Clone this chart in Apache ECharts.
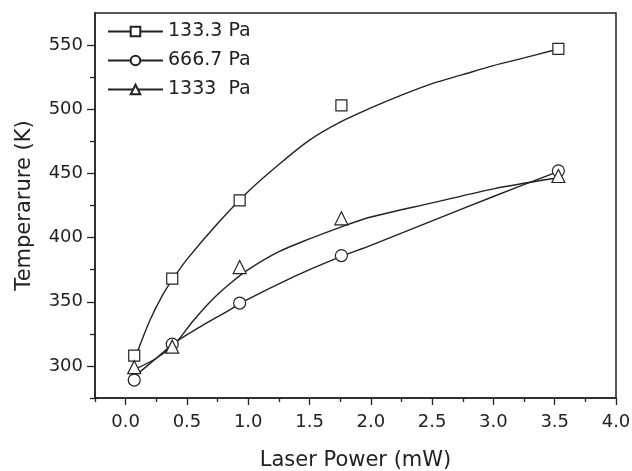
<!DOCTYPE html>
<html>
<head>
<meta charset="utf-8">
<script src="https://cdn.jsdelivr.net/npm/echarts@6/dist/echarts.min.js"></script>
<style>
  html, body { margin: 0; padding: 0; background: #fff; }
  #chart { width: 632px; height: 471px; }
</style>
</head>
<body>
<div id="chart"></div>
<script>
// measured points
var power = [0.07, 0.38, 0.93, 1.76, 3.53];
var temp133 = [308, 368, 429, 503, 547];
var temp667 = [289, 317, 349, 386, 452];
var temp1333 = [299, 315, 377, 415, 448];

// fitted curves at regular steps
var fit133x = [0.1, 0.2, 0.3, 0.38, 0.5, 0.75, 1.0, 1.25, 1.5, 1.75, 2.0, 2.25, 2.5, 2.75, 3.0, 3.25, 3.49];
var fit133y = [312, 336, 355, 367, 383, 411, 436, 457, 476, 490, 501, 511, 520, 527, 534, 540, 546];
var fit667x = [0.1, 0.25, 0.4, 0.6, 0.8, 1.0, 1.25, 1.5, 1.75, 2.0, 2.5, 3.0, 3.49];
var fit667y = [294, 306, 318, 330, 341, 352, 364, 375, 385, 394, 413, 432, 450];
var fit1333x = [0.09, 0.25, 0.4, 0.55, 0.7, 0.85, 1.0, 1.25, 1.5, 1.75, 2.0, 2.5, 3.0, 3.49];
var fit1333y = [298, 306, 317, 335, 351, 364, 375, 389, 399, 408, 416, 427, 438, 446];

var xMajor = [0, 0.5, 1, 1.5, 2, 2.5, 3, 3.5, 4];
var xMinor = [-0.25, 0.25, 0.75, 1.25, 1.75, 2.25, 2.75, 3.25, 3.75];
var yMajor = [300, 350, 400, 450, 500, 550];
var yMinor = [275, 325, 375, 425, 475, 525];

var ink = '#222';
var font = 'DejaVu Sans';

function pairs(xs, ys) {
  return xs.map(function (x, i) { return [x, ys[i]]; });
}

var chart = echarts.init(document.getElementById('chart'));

function fitSeries(name, data, sym) {
  return {
    name: name, type: 'line', data: data, smooth: 0.3,
    symbol: sym, symbolSize: 10, showSymbol: false,
    xAxisIndex: 0, yAxisIndex: 0,
    lineStyle: { color: ink, width: 1.4 },
    itemStyle: { color: ink, borderColor: ink, borderWidth: 1 },
    z: 2, silent: true
  };
}
function pointSeries(name, data, sym, size) {
  return {
    name: name, type: 'scatter', data: data, symbol: sym, symbolSize: size,
    xAxisIndex: 0, yAxisIndex: 0,
    itemStyle: { color: '#fff', borderColor: ink, borderWidth: 1.2, opacity: 1 },
    z: 3, silent: true
  };
}

var option = {
  animation: false,
  backgroundColor: '#fff',
  grid: {
    left: 95, right: 16, top: 13, bottom: 73, containLabel: false, outerBoundsMode: 'none',
    show: true, borderColor: ink, borderWidth: 1.5, backgroundColor: 'transparent'
  },
  legend: {
    data: ['133.3 Pa', '666.7 Pa', '1333  Pa'],
    orient: 'vertical', left: 107, top: 22, padding: 0,
    itemWidth: 55, itemHeight: 12, itemGap: 10,
    textStyle: { fontFamily: font, fontSize: 19, color: ink, lineHeight: 19 },
    selectedMode: false
  },
  xAxis: [{
    type: 'value', min: -0.25, max: 4, position: 'bottom',
    name: 'Laser Power (mW)', nameLocation: 'middle', nameGap: 52,
    nameTextStyle: { fontFamily: font, fontSize: 21, color: ink, lineHeight: 21 },
    axisLine: { onZero: false, lineStyle: { color: ink, width: 1.5 } },
    axisTick: { customValues: xMajor, length: 7, lineStyle: { color: ink, width: 1.3 } },
    axisLabel: { customValues: xMajor, fontFamily: font, fontSize: 18, color: ink, margin: 15,
      formatter: function (v) { return v.toFixed(1); } },
    splitLine: { show: false }
  }, {
    type: 'value', min: -0.25, max: 4, position: 'bottom',
    axisLine: { show: false, onZero: false },
    axisTick: { customValues: xMinor, length: 4, lineStyle: { color: ink, width: 1.3 } },
    axisLabel: { show: false },
    splitLine: { show: false }
  }],
  yAxis: [{
    type: 'value', min: 275, max: 575, position: 'left',
    name: 'Temperarure (K)', nameLocation: 'middle', nameGap: 60,
    nameTextStyle: { fontFamily: font, fontSize: 21, color: ink },
    axisLine: { show: true, onZero: false, lineStyle: { color: ink, width: 1.5 } },
    axisTick: { show: true, customValues: yMajor, length: 8, lineStyle: { color: ink, width: 1.3 } },
    axisLabel: { customValues: yMajor, fontFamily: font, fontSize: 18, color: ink, margin: 12 },
    splitLine: { show: false }
  }, {
    type: 'value', min: 275, max: 575, position: 'left',
    axisLine: { show: false, onZero: false },
    axisTick: { show: true, customValues: yMinor, length: 5, lineStyle: { color: ink, width: 1.3 } },
    axisLabel: { show: false },
    splitLine: { show: false }
  }],
  series: [
    fitSeries('133.3 Pa', pairs(fit133x, fit133y), 'emptyRect'),
    fitSeries('666.7 Pa', pairs(fit667x, fit667y), 'emptyCircle'),
    fitSeries('1333  Pa', pairs(fit1333x, fit1333y), 'emptyTriangle'),
    pointSeries('pts 133.3', pairs(power, temp133), 'rect', 11),
    pointSeries('pts 666.7', pairs(power, temp667), 'circle', 12),
    pointSeries('pts 1333', pairs(power, temp1333), 'triangle', 13)
  ]
};

chart.setOption(option);
</script>
</body>
</html>
